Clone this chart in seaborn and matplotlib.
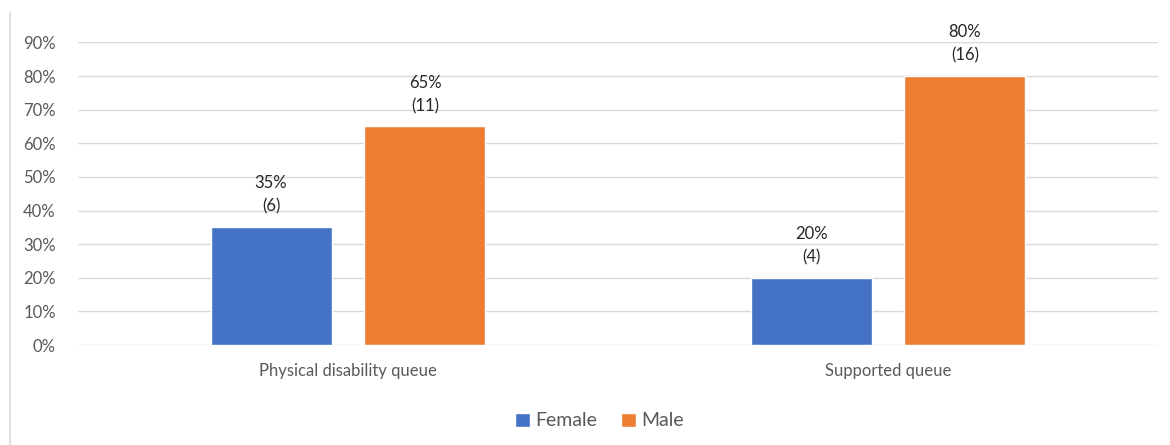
import pandas as pd
import matplotlib.pyplot as plt
import seaborn as sns
from matplotlib.lines import Line2D
from matplotlib.ticker import PercentFormatter

# data
queues = ['Physical disability queue', 'Supported queue']
genders = ['Female', 'Male']
female_pct = [0.35, 0.20]
male_pct = [0.65, 0.80]
female_n = [6, 4]
male_n = [11, 16]

df = pd.DataFrame({
    'queue': queues * 2,
    'gender': ['Female'] * 2 + ['Male'] * 2,
    'pct': female_pct + male_pct,
    'n': female_n + male_n,
})

sns.set_style('white')
plt.rcParams['font.family'] = ['Lato', 'DejaVu Sans']

fig = plt.figure(figsize=(11.7, 4.45), dpi=100)
ax = fig.add_axes([0.0667, 0.2247, 0.923, 0.680])

palette = {'Female': '#4472C4', 'Male': '#ED7D31'}
sns.barplot(data=df, x='queue', y='pct', hue='gender', hue_order=genders,
            palette=palette, width=0.57, gap=0.214, saturation=1,
            legend=True, ax=ax, zorder=3)

ax.set_ylim(0, 0.9)
ax.set_yticks([i / 10 for i in range(10)])
ax.yaxis.set_major_formatter(PercentFormatter(1.0, decimals=0))
ax.set_xlim(-0.5, 1.5)
ax.grid(axis='y', color='#d9d9d9', linewidth=1, zorder=0)
ax.set_axisbelow(True)
for s in ax.spines.values():
    s.set_visible(False)
ax.tick_params(axis='both', length=0, labelsize=12, colors='#595959')
ax.tick_params(axis='x', pad=13)
ax.tick_params(axis='y', pad=16)
ax.set_xlabel('')
ax.set_ylabel('')

# value labels above bars
for container, g in zip(ax.containers, genders):
    sub = df[df['gender'] == g]
    labels = [f"{p * 100:.0f}%\n({n})" for p, n in zip(sub['pct'], sub['n'])]
    ax.bar_label(container, labels=labels, padding=9, fontsize=12,
                 color='#262626', linespacing=1.55, clip_on=False)

leg = ax.legend(loc='upper center', bbox_to_anchor=(0.483, -0.165), ncol=2,
                frameon=False, fontsize=14, handlelength=0.75, handleheight=0.75,
                handletextpad=0.3, columnspacing=1.2)
for t in leg.get_texts():
    t.set_color('#595959')

# chart-area border on the left
fig.add_artist(Line2D([10 / 1170, 10 / 1170], [0, 1 - 12 / 445],
                      transform=fig.transFigure, color='#d9d9d9', linewidth=1.2))

fig.savefig('out.png', dpi=100, facecolor='white')
